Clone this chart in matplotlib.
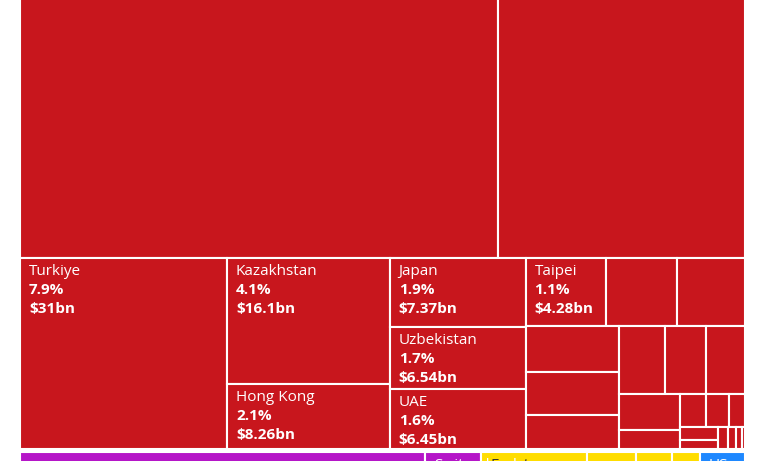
import matplotlib.pyplot as plt
from matplotlib.patches import Rectangle

RED = "#c8161d"
PURPLE = "#b516c8"
YELLOW = "#ffdd00"
BLUE = "#1e88ff"

# top row (labels cut off in the reference)
top_values = [112.0, 58.0]

# middle row: Turkiye | Kazakhstan/Hong Kong | Japan/Uzbekistan/UAE | smaller partners
turkiye = ("Turkiye", "7.9%", 31.0)
col2 = [("Kazakhstan", "4.1%", 16.1), ("Hong Kong", "2.1%", 8.26)]
col3 = [("Japan", "1.9%", 7.37), ("Uzbekistan", "1.7%", 6.54), ("UAE", "1.6%", 6.45)]
taipei_row = [("Taipei", "1.1%", 4.28), ("", "", 3.83), ("", "", 3.62)]
small_col_a = [3.35, 3.13, 2.48]
small_row_b = [2.47, 2.15, 2.05]
small_col_c = [1.77, 0.91]
small_row_d = [0.67, 0.59, 0.41]
small_col_e = [0.41, 0.26]
small_tail = [0.18, 0.14, 0.10, 0.06]

# bottom row (mostly cut off)
bottom_names = ["", "Switzerland", "Egypt", "", "", "", "US"]
bottom_values = [21.5, 3.0, 5.6, 2.6, 1.9, 1.5, 2.4]
bottom_colors = [PURPLE, PURPLE, YELLOW, YELLOW, YELLOW, YELLOW, BLUE]
bottom_text = ["white", "white", "#333333", "#333333", "#333333", "#333333", "white"]


def leaf(v, name="", pct="", color=RED, tc="white"):
    return {"v": v, "name": name, "pct": pct, "color": color, "tc": tc}


def node(d, kids):
    return {"dir": d, "kids": kids}


def total(n):
    return n["v"] if "v" in n else sum(total(k) for k in n["kids"])


def layout(n, x, y, w, h, out):
    if "v" in n:
        out.append((x, y, w, h, n))
        return
    s = total(n)
    for k in n["kids"]:
        f = total(k) / s
        if n["dir"] == "h":
            layout(k, x, y, w * f, h, out)
            x += w * f
        else:
            layout(k, x, y, w, h * f, out)
            y += h * f


tail = node("h", [node("v", [leaf(v) for v in small_col_e]),
                  node("h", [leaf(v) for v in small_tail])])
rest = node("v", [
    node("h", [leaf(v, nm, p) for nm, p, v in taipei_row]),
    node("h", [
        node("v", [leaf(v) for v in small_col_a]),
        node("v", [
            node("h", [leaf(v) for v in small_row_b]),
            node("h", [
                node("v", [leaf(v) for v in small_col_c]),
                node("v", [node("h", [leaf(v) for v in small_row_d]), tail]),
            ]),
        ]),
    ]),
])
middle = node("h", [
    leaf(turkiye[2], turkiye[0], turkiye[1]),
    node("v", [leaf(v, nm, p) for nm, p, v in col2]),
    node("v", [leaf(v, nm, p) for nm, p, v in col3]),
    rest,
])
top = node("h", [leaf(v) for v in top_values])
bottom = node("h", [leaf(v, nm, "", c, t) for nm, v, c, t in
                    zip(bottom_names, bottom_values, bottom_colors, bottom_text)])

fig = plt.figure(figsize=(7.68, 4.61), dpi=100)
ax = fig.add_axes([0, 0, 1, 1])
ax.set_xlim(0, 768)
ax.set_ylim(461, 0)
ax.axis("off")

X0, W = 20, 725
scale = 1277.0 / W  # height per unit value of a full-width row
y = 258 - total(top) * scale
rects = []
for row, gap in [(top, 0), (middle, 2.5), (bottom, 0)]:
    h = total(row) * scale
    layout(row, X0, y, W, h, rects)
    y += h + gap

FONT = ["Open Sans", "DejaVu Sans"]
for x, y, w, h, n in rects:
    p = ax.add_patch(Rectangle((x, y), w, h, facecolor=n["color"],
                               edgecolor="white", linewidth=1.5))
    if n["name"]:
        tx, ty = x + 9, y + 6
        t = ax.text(tx, ty, n["name"], color=n["tc"], fontsize=11,
                    family=FONT, va="top")
        t.set_clip_path(p)
        if n["pct"]:
            ax.text(tx, ty + 19, n["pct"], color=n["tc"], fontsize=11,
                    family=FONT, weight="bold", va="top")
            ax.text(tx, ty + 38, f"${n['v']:g}bn", color=n["tc"],
                    fontsize=11, family=FONT, weight="bold", va="top")

fig.savefig("out.png", dpi=100)
